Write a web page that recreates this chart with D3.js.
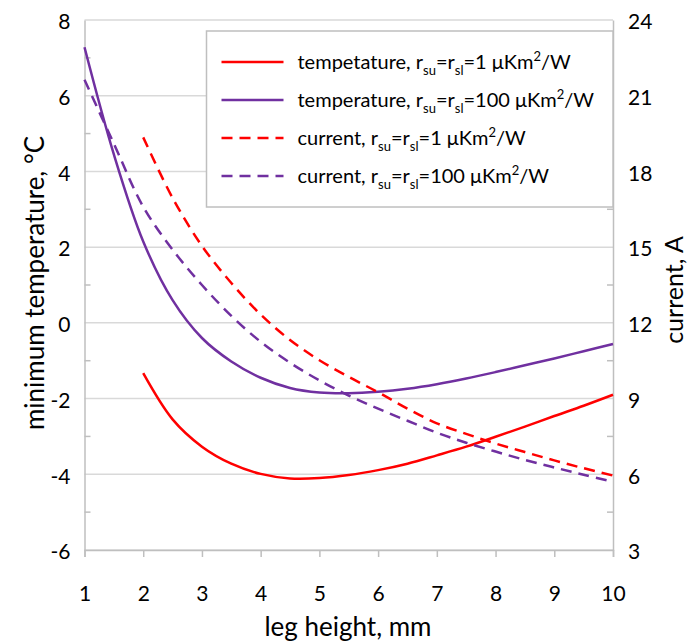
<!DOCTYPE html>
<html>
<head>
<meta charset="utf-8">
<script src="https://cdn.jsdelivr.net/npm/d3@7"></script>
<style>
body { margin: 0; background: #fff; }
svg text { font-family: Lato, "Open Sans", sans-serif; fill: #000; }
</style>
</head>
<body>
<svg id="chart" width="691" height="642"></svg>
<script>
// leg height, mm
const legH = [1, 1.5, 2, 2.5, 3, 3.5, 4, 4.5, 5, 5.5, 6, 6.5, 7, 7.5, 8, 8.5, 9, 9.5, 10];
const legH2 = [2, 2.5, 3, 3.5, 4, 4.5, 5, 5.5, 6, 6.5, 7, 7.5, 8, 8.5, 9, 9.5, 10];

// minimum temperature, degC (left axis)
const tempR1 = [-1.33, -2.55, -3.27, -3.72, -3.99, -4.11, -4.1, -4.02, -3.89, -3.72, -3.50, -3.27, -3.01, -2.74, -2.46, -2.19, -1.90];
const tempR100 = [7.28, 4.45, 2.15, 0.6, -0.4, -1.02, -1.45, -1.72, -1.84, -1.86, -1.82, -1.74, -1.62, -1.47, -1.30, -1.12, -0.94, -0.75, -0.56];

// current, A (right axis)
const currR1 = [19.35, 16.95, 15.05, 13.58, 12.33, 11.32, 10.52, 9.86, 9.25, 8.6, 8.02, 7.6, 7.22, 6.88, 6.55, 6.24, 5.95];
const currR100 = [21.63, 19.1, 16.6, 14.9, 13.5, 12.28, 11.25, 10.42, 9.72, 9.12, 8.6, 8.12, 7.65, 7.25, 6.9, 6.57, 6.27, 5.98, 5.7];

const xTicks = [1, 2, 3, 4, 5, 6, 7, 8, 9, 10];
const leftTicks = [-6, -4, -2, 0, 2, 4, 6, 8];
const rightTicks = [3, 6, 9, 12, 15, 18, 21, 24];

const series = [
  {name: "tempetature", r: "1", xs: legH2, ys: tempR1, axis: "left", color: "#ff0000", dash: null},
  {name: "temperature", r: "100", xs: legH, ys: tempR100, axis: "left", color: "#7030a0", dash: null},
  {name: "current", r: "1", xs: legH2, ys: currR1, axis: "right", color: "#ff0000", dash: "11,7"},
  {name: "current", r: "100", xs: legH, ys: currR100, axis: "right", color: "#7030a0", dash: "11,7"}
];

const svg = d3.select("#chart");
const L = 84.5, R = 613, T = 20, B = 550;

const x = d3.scaleLinear().domain([1, 10]).range([L, R]);
const yL = d3.scaleLinear().domain([-6, 8]).range([B, T]);
const yR = d3.scaleLinear().domain([3, 24]).range([B, T]);
const fmt = d => String(d);

const gridColor = "#d9d9d9", axisColor = "#bfbfbf";

// horizontal gridlines
svg.append("g").selectAll("line").data(leftTicks).join("line")
  .attr("x1", L).attr("x2", R)
  .attr("y1", d => yL(d)).attr("y2", d => yL(d))
  .attr("stroke", gridColor).attr("stroke-width", 1.5);

// left axis
const gLeft = svg.append("g").attr("transform", `translate(${L},0)`)
  .call(d3.axisLeft(yL).tickValues(leftTicks).tickSize(0).tickPadding(14).tickFormat(fmt));
gLeft.select(".domain").attr("stroke", axisColor).attr("stroke-width", 1.5);
gLeft.selectAll("text").attr("font-size", 21).attr("font-family", "Lato").attr("dy", "0.42em");
// minor ticks on the inside
svg.append("g").selectAll("line").data(d3.range(-5, 8, 2)).join("line")
  .attr("x1", L).attr("x2", L + 6)
  .attr("y1", d => yL(d)).attr("y2", d => yL(d))
  .attr("stroke", axisColor).attr("stroke-width", 1.5);

// right axis
const gRight = svg.append("g").attr("transform", `translate(${R},0)`)
  .call(d3.axisRight(yR).tickValues(rightTicks).tickSize(0).tickPadding(15).tickFormat(fmt));
gRight.select(".domain").attr("stroke", axisColor).attr("stroke-width", 1.5);
gRight.selectAll("text").attr("font-size", 21).attr("font-family", "Lato").attr("dy", "0.42em");
svg.append("g").selectAll("line").data(d3.range(4.5, 24, 3)).join("line")
  .attr("x1", R - 6).attr("x2", R)
  .attr("y1", d => yR(d)).attr("y2", d => yR(d))
  .attr("stroke", axisColor).attr("stroke-width", 1.5);

// bottom axis
const gBottom = svg.append("g").attr("transform", `translate(0,${B})`)
  .call(d3.axisBottom(x).tickValues(xTicks).tickSize(7).tickPadding(44).tickFormat(fmt));
gBottom.select(".domain").attr("stroke", axisColor).attr("stroke-width", 1.5);
gBottom.selectAll(".tick line").attr("stroke", axisColor).attr("stroke-width", 1.5);
gBottom.selectAll("text").attr("font-size", 21).attr("font-family", "Lato").attr("dy", 0);

// axis titles
svg.append("text").attr("x", 348).attr("y", 636)
  .attr("text-anchor", "middle").attr("font-size", 26).text("leg height, mm");
svg.append("text").attr("transform", `translate(44,283) rotate(-90)`)
  .attr("text-anchor", "middle").attr("font-size", 26).text("minimum temperature, °C");
svg.append("text").attr("transform", `translate(683,290) rotate(-90)`)
  .attr("text-anchor", "middle").attr("font-size", 25).text("current, A");

// curves
const plot = svg.append("g");
series.forEach(s => {
  const ys = s.axis === "left" ? yL : yR;
  const line = d3.line().x((d, i) => x(s.xs[i])).y(d => ys(d)).curve(d3.curveCatmullRom.alpha(0.5));
  plot.append("path").datum(s.ys)
    .attr("d", line)
    .attr("fill", "none")
    .attr("stroke", s.color)
    .attr("stroke-width", 2.5)
    .attr("stroke-dasharray", s.dash);
});

// legend
const lg = svg.append("g").attr("transform", "translate(206.5,31)");
lg.append("rect").attr("width", 406.5).attr("height", 176)
  .attr("fill", "#fff").attr("stroke", axisColor).attr("stroke-width", 1.5);
series.forEach((s, i) => {
  const cy = 31 + i * 38;
  lg.append("line").attr("x1", 15).attr("x2", 77).attr("y1", cy).attr("y2", cy)
    .attr("stroke", s.color).attr("stroke-width", 2.5).attr("stroke-dasharray", s.dash);
  const t = lg.append("text").attr("x", 91).attr("y", cy + 7).attr("font-size", 20);
  t.append("tspan").text(`${s.name}, r`);
  t.append("tspan").attr("font-size", 13).attr("dy", 6).text("su");
  t.append("tspan").attr("dy", -6).text("=r");
  t.append("tspan").attr("font-size", 13).attr("dy", 6).text("sl");
  t.append("tspan").attr("dy", -6).text(`=${s.r} \u03bcKm`);
  t.append("tspan").attr("font-size", 13).attr("dy", -8).text("2");
  t.append("tspan").attr("dy", 8).text("/W");
});
</script>
</body>
</html>
